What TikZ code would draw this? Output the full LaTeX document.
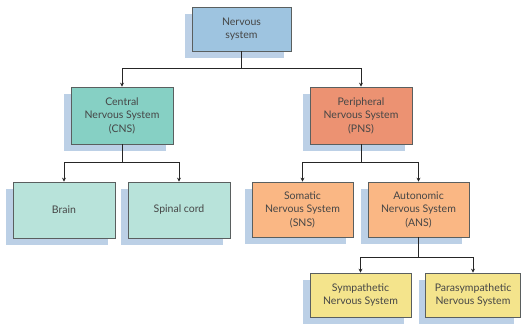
\documentclass[tikz,border=0pt]{standalone}
\usepackage{fontspec}
\setmainfont{Lato}
\usetikzlibrary{shadows,arrows.meta}
\definecolor{shadowblue}{RGB}{188,208,230}
\definecolor{nsblue}{RGB}{158,196,224}
\definecolor{cnsteal}{RGB}{134,208,196}
\definecolor{lightteal}{RGB}{184,227,218}
\definecolor{pnssalmon}{RGB}{236,146,114}
\definecolor{lightorange}{RGB}{250,183,132}
\definecolor{paleyellow}{RGB}{244,228,140}
\definecolor{boxline}{RGB}{90,95,95}
\definecolor{textgray}{RGB}{70,70,70}
\tikzset{
  box/.style={draw=boxline, line width=0.7pt, align=center, inner sep=1pt,
    font=\fontsize{10.5}{13.5}\selectfont, text=textgray,
    drop shadow={shadow xshift=-7pt, shadow yshift=-7pt, fill=shadowblue, opacity=1}},
  link/.style={draw=black!85, line width=1pt},
  arr/.style={link, -{Stealth[length=4pt,width=4pt]}}
}
\begin{document}
\begin{tikzpicture}[x=1pt,y=-1pt]
\useasboundingbox (0,0) rectangle (525,324);
\node[box, fill=nsblue, minimum width=99pt, minimum height=44pt] (ns) at (241.5,29) {Nervous\\system};
\node[box, fill=cnsteal, minimum width=102pt, minimum height=57pt] (cns) at (122,115.5) {Central\\Nervous System\\(CNS)};
\node[box, fill=pnssalmon, minimum width=102pt, minimum height=57pt] (pns) at (361,115.5) {Peripheral\\Nervous System\\(PNS)};
\node[box, fill=lightteal, minimum width=102pt, minimum height=56pt] (brain) at (64,210) {Brain};
\node[box, fill=lightteal, minimum width=102pt, minimum height=56pt] (spinal) at (179,210) {Spinal cord};
\node[box, fill=lightorange, minimum width=101pt, minimum height=55pt] (sns) at (302.5,209.5) {Somatic\\Nervous System\\(SNS)};
\node[box, fill=lightorange, minimum width=101pt, minimum height=55pt] (ans) at (418.5,209.5) {Autonomic\\Nervous System\\(ANS)};
\node[box, fill=paleyellow, minimum width=101pt, minimum height=44pt] (sym) at (360.5,295) {Sympathetic\\Nervous System};
\node[box, fill=paleyellow, minimum width=95pt, minimum height=44pt] (para) at (473,295) {Parasympathetic\\Nervous System};
\coordinate (j1) at (241.5,68);
\coordinate (j2) at (122,162);
\coordinate (j3) at (361,162);
\coordinate (j4) at (418.5,257);
\draw[link] (ns.south) -- (j1);
\draw[arr] (j1) -| (cns.north);
\draw[arr] (j1) -| (pns.north);
\draw[link] (cns.south) -- (j2);
\draw[arr] (j2) -| (brain.north);
\draw[arr] (j2) -| (spinal.north);
\draw[link] (pns.south) -- (j3);
\draw[arr] (j3) -| (sns.north);
\draw[arr] (j3) -| (ans.north);
\draw[link] (ans.south) -- (j4);
\draw[arr] (j4) -| (sym.north);
\draw[arr] (j4) -| (para.north);
\end{tikzpicture}
\end{document}
